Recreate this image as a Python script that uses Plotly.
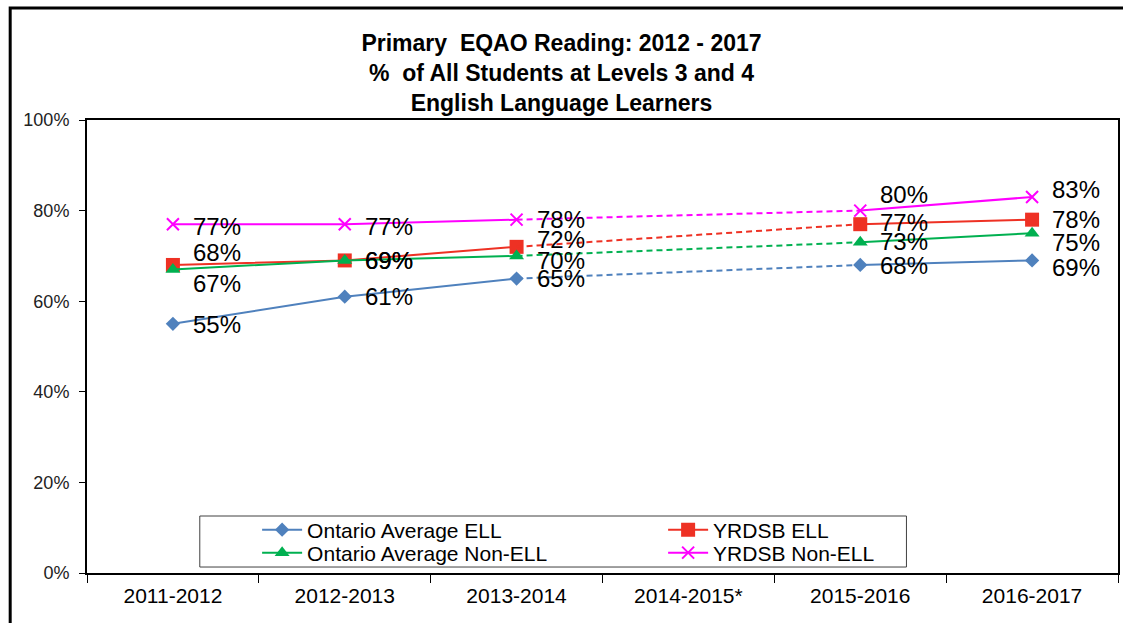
import plotly.graph_objects as go

# School years on the x axis (2014-2015 had no test -> gap bridged by dashes)
years = ["2011-2012", "2012-2013", "2013-2014", "2014-2015*", "2015-2016", "2016-2017"]

ontario_ell = [55, 61, 65, None, 68, 69]
yrdsb_ell = [68, 69, 72, None, 77, 78]
ontario_non_ell = [67, 69, 70, None, 73, 75]
yrdsb_non_ell = [77, 77, 78, None, 80, 83]

series_names = ["Ontario Average ELL", "YRDSB ELL", "Ontario Average Non-ELL", "YRDSB Non-ELL"]
series_values = [ontario_ell, yrdsb_ell, ontario_non_ell, yrdsb_non_ell]

colors = ["#4F81BD", "#EE3124", "#00B050", "#FF00FF"]
symbols = ["diamond", "square", "triangle-up", "x-thin"]
sizes = [11, 14, 13, 12]
# two legend rows, like the excel legend box
legend_rows = ["legend", "legend", "legend2", "legend2"]

# vertical nudges (px, up is positive) for the data labels so they sit like the original
label_shift = [
    [-1, 0, 0, 0, -1, -7],
    [12, 0, 7, 0, 2, 0],
    [-14, 0, -5, 0, 1, -9],
    [-2, -2, 0, 0, 16, 8],
]

FONT = "Liberation Sans, Arial, sans-serif"

fig = go.Figure()

for name, vals, col, sym, sz, lg in zip(series_names, series_values, colors, symbols, sizes, legend_rows):
    marker = dict(symbol=sym, size=sz, color=col)
    if sym == "x-thin":
        marker["line"] = dict(color=col, width=2)
    fig.add_trace(go.Scatter(
        x=years, y=vals, name=name, mode="lines+markers",
        line=dict(color=col, width=2), marker=marker,
        connectgaps=False, legend=lg,
    ))

# dashed bridge over the missing year
for vals, col in zip(series_values, colors):
    fig.add_trace(go.Scatter(
        x=[years[2], years[4]], y=[vals[2], vals[4]],
        mode="lines", line=dict(color=col, width=2, dash="6px,4px"),
        showlegend=False, hoverinfo="skip",
    ))

annotations = []
for vals, shifts in zip(series_values, label_shift):
    for x, v, s in zip(years, vals, shifts):
        if v is None:
            continue
        annotations.append(dict(
            x=x, y=v, xref="x", yref="y", text=f"{v}%", showarrow=False,
            xanchor="left", yanchor="middle", xshift=18, yshift=s,
            font=dict(family=FONT, size=24, color="black"),
        ))

legend_style = dict(
    orientation="h", x=0.165, xanchor="left", yanchor="middle",
    bgcolor="rgba(0,0,0,0)", borderwidth=0,
    entrywidth=351, entrywidthmode="pixels",
    font=dict(family=FONT, size=21, color="black"),
    itemwidth=40,
)

fig.update_layout(
    width=1123, height=623,
    margin=dict(l=87, r=3, t=120, b=50),
    paper_bgcolor="white", plot_bgcolor="white",
    font=dict(family=FONT, color="black"),
    title=dict(
        text="<b>Primary  EQAO Reading: 2012 - 2017<br>%  of All Students at Levels 3 and 4<br>English Language Learners</b>",
        x=0.5, xanchor="center", y=0.918, yanchor="middle", yref="container",
        font=dict(family=FONT, size=23, color="black"),
    ),
    showlegend=True,
    legend=dict(legend_style, y=0.0949),
    legend2=dict(legend_style, y=0.0442),
    annotations=annotations,
    shapes=[
        # legend box
        dict(type="rect", xref="paper", yref="paper", x0=0.1094, x1=0.7948, y0=0.0132, y1=0.1258,
             line=dict(color="#404040", width=1), fillcolor="white", layer="below"),
        # outer chart frame
        dict(type="rect", xref="paper", yref="paper", x0=-0.0745, x1=1.05, y0=-0.3, y1=1.247,
             line=dict(color="black", width=3), fillcolor="rgba(0,0,0,0)", layer="above"),
    ],
)

fig.update_xaxes(
    type="category", range=[-0.5, len(years) - 0.5],
    showgrid=False, showline=True, mirror=True,
    linecolor="black", linewidth=2, ticks="outside", tickson="boundaries",
    ticklen=8, tickcolor="black", tickwidth=1,
    tickfont=dict(family=FONT, size=21, color="black"), ticklabelstandoff=3,
)
fig.update_yaxes(
    range=[0, 100], dtick=20, ticksuffix="%", showgrid=False, zeroline=False,
    showline=True, mirror=True, linecolor="black", linewidth=2,
    ticks="outside", ticklen=6, tickcolor="black", tickwidth=1,
    tickfont=dict(family=FONT, size=18, color="#222222"), ticklabelstandoff=6,
)

# drop the default page margin so the chart sits at the window's corner
fig.write_html("out.html", config={"displayModeBar": False},
               post_script="document.body.style.margin='0';")
